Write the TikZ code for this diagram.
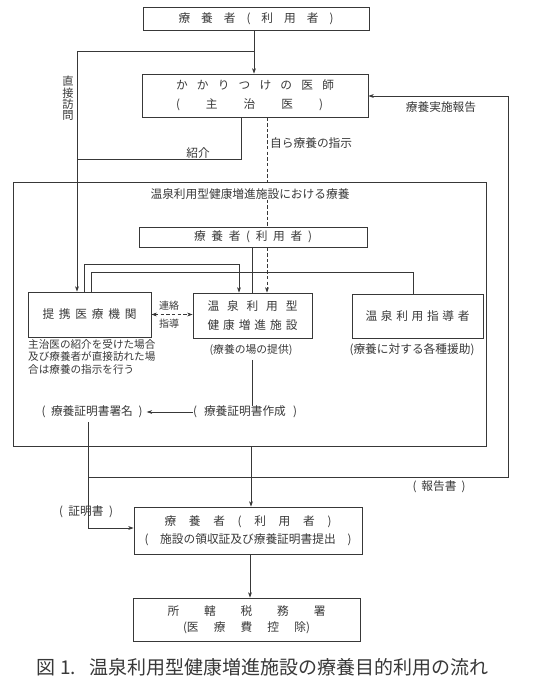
\documentclass[tikz,border=0pt]{standalone}
\usepackage{fontspec}
\setmainfont{Noto Sans CJK JP}
\usetikzlibrary{arrows.meta}
\newcommand{\spr}[2]{\makebox[#1][s]{#2}}
\definecolor{ink}{HTML}{383838}
\begin{document}
\begin{tikzpicture}[x=1pt,y=-1pt,
  every node/.style={text=ink, font=\fontsize{11.7}{14}\selectfont},
  box/.style={draw=ink, line width=0.7pt, inner sep=0pt, align=center},
  ln/.style={draw=ink, line width=0.6pt},
  arr/.style={ln, -{Stealth[length=5.5pt,width=3.8pt]}},
  dsh/.style={dash pattern=on 3.5pt off 2.2pt},
  lbl/.style={inner sep=0pt}]
\useasboundingbox (0,0) rectangle (537,680);

% boxes
\node[box, minimum width=226pt, minimum height=23pt] (top) at (256,18.5) {\spr{155pt}{療 養 者 ( 利 用 者 )}};
\node[box, minimum width=226pt, minimum height=43pt, align=left, font=\fontsize{11.7}{19}\selectfont] (doc) at (255,95.5) {\spr{158pt}{か か り つ け の 医 師}\\\spr{147pt}{( 主 治 医 )}};
\node[box, minimum width=473pt, minimum height=264pt] (frame) at (249.5,314) {};
\node[lbl] (title) at (250,194) {温泉利用型健康増進施設における療養};
\node[box, minimum width=228pt, minimum height=20pt] (inner) at (253,237) {\spr{118pt}{療 養 者 ( 利 用 者 )}};
\node[box, minimum width=123pt, minimum height=45pt] (partner) at (89.5,314.5) {\spr{94pt}{提 携 医 療 機 関}};
\node[box, minimum width=119pt, minimum height=45pt, font=\fontsize{11.7}{19}\selectfont] (fac) at (252.5,315.5) {\spr{90pt}{温 泉 利 用 型}\\\spr{90pt}{健 康 増 進 施 設}};
\node[box, minimum width=131pt, minimum height=44pt] (guide) at (417.5,316) {\spr{104pt}{温 泉 利 用 指 導 者}};
\node[lbl, anchor=north west, align=left, font=\fontsize{10.6}{12.8}\selectfont] (note) at (28,339) {主治医の紹介を受けた場合\\及び療養者が直接訪れた場\\合は療養の指示を行う};
\node[lbl, font=\fontsize{10.8}{13}\selectfont] (prov) at (251,350) {(療養の場の提供)};
\node[lbl] (aid) at (412,350) {(療養に対する各種援助)};
\node[lbl] (sign) at (92,412) {\spr{101pt}{( 療養証明書署名 )}};
\node[lbl] (make) at (245,412) {\spr{104pt}{( 療養証明書作成 )}};
\node[lbl] (rep) at (439,487) {\spr{53pt}{( 報告書 )}};
\node[lbl] (cert) at (86,512) {\spr{54pt}{( 証明書 )}};
\node[box, minimum width=228pt, minimum height=47pt, font=\fontsize{11.7}{18}\selectfont] (user2) at (248,530.5) {\spr{167pt}{療 養 者 ( 利 用 者 )}\\\spr{207pt}{( 施設の領収証及び療養証明書提出 )}};
\node[box, minimum width=227pt, minimum height=43pt, font=\fontsize{11.7}{16}\selectfont] (tax) at (246.5,619.5) {\spr{158pt}{所 轄 税 務 署}\\\spr{127pt}{(医 療 費 控 除)}};
\node[lbl, anchor=west, font=\fontsize{19}{19}\selectfont] (cap) at (36,667) {図\hspace{5pt}1.\hspace{13pt}温泉利用型健康増進施設の療養目的利用の流れ};

% labels
\node[lbl, align=center, font=\fontsize{11.3}{11.3}\selectfont] (direct) at (68,98.5) {直\\接\\訪\\問};
\node[lbl] (intro) at (198,153) {紹介};
\node[lbl, anchor=west] (self) at (270,143) {自ら療養の指示};
\node[lbl] (report) at (441,107) {療養実施報告};
\node[lbl, font=\fontsize{10}{12}\selectfont] (renraku) at (169,306) {連絡};
\node[lbl, font=\fontsize{10}{12}\selectfont] (shido) at (169,324) {指導};

% coordinates
\coordinate (c1) at (254,51);
\coordinate (c77) at (77,0);
\coordinate (k) at (77,159);
\coordinate (x241) at (241,0);
\coordinate (dx) at (267,0);
\coordinate (x252) at (252,0);
\coordinate (x84) at (84,0);
\coordinate (x91) at (91,0);
\coordinate (p1) at (239,264);
\coordinate (p2) at (413,272);
\coordinate (q) at (88,528);
\coordinate (r0) at (88,477);
\coordinate (r2) at (508,96);
\coordinate (x251) at (251,0);
\coordinate (x250) at (250,0);

% connectors
\draw[arr] (top.south -| c1) -- (doc.north -| c1);
\draw[arr] (c1) -| (partner.north -| c77);
\draw[ln] (doc.south -| x241) |- (k);
\draw[ln, dsh] (doc.south -| dx) -- (frame.north -| dx);
\draw[ln, dsh] (title.south -| dx) -- (inner.north -| dx);
\draw[ln] (inner.south -| x252) -- (fac.north -| x252);
\draw[arr, dsh] (inner.south -| dx) -- (fac.north -| dx);
\draw[arr] (partner.north -| x84) |- (p1) -- (fac.north -| p1);
\draw[ln] (partner.north -| x91) |- (p2) -- (guide.north -| p2);
\draw[ln, dsh, {Stealth[length=5.5pt,width=3.8pt]}-{Stealth[length=5.5pt,width=3.8pt]}] (partner.east) -- (partner.east -| fac.west);
\draw[ln] (prov.south -| x252) ++(0,4) -- (make.north -| x252);
\draw[arr, shorten >=4pt] (make.west) -- (sign.east);
\draw[arr] (sign.south -| q) ++(0,4) -- (q) -- (q -| user2.west);
\draw[arr] (r0) -| (r2) -- (r2 -| doc.east);
\draw[arr] (frame.south -| x251) -- (user2.north -| x251);
\draw[arr] (user2.south -| x250) -- (tax.north -| x250);
\end{tikzpicture}
\end{document}
